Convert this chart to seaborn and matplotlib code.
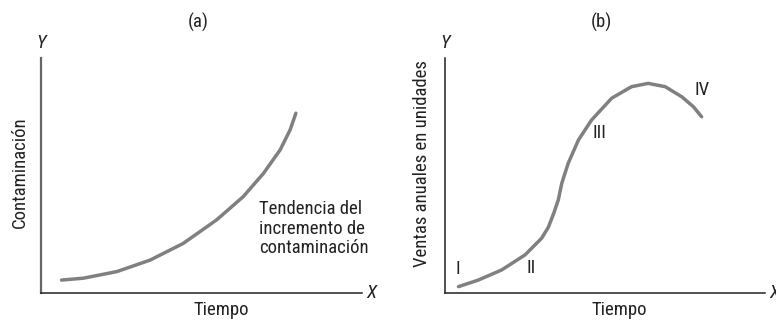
import matplotlib
matplotlib.use("Agg")
import matplotlib.pyplot as plt
import pandas as pd
import seaborn as sns

# panel (a): contaminación frente al tiempo (unidades arbitrarias 0-10)
tiempo_a = [0.64, 1.32, 2.36, 3.40, 4.43, 5.47, 6.30, 6.93, 7.45, 7.76, 7.94]
contam_a = [0.55, 0.63, 0.91, 1.40, 2.11, 3.11, 4.10, 5.09, 6.09, 6.94, 7.65]

# panel (b): ciclo de vida de ventas
tiempo_b = [0.42, 1.04, 1.77, 2.50, 3.02, 3.23, 3.40, 3.54, 3.65, 3.85,
            4.17, 4.58, 5.21, 5.83, 6.35, 6.88, 7.40, 7.76, 8.02]
ventas_b = [0.27, 0.55, 0.98, 1.62, 2.33, 2.80, 3.40, 3.96, 4.67, 5.52,
            6.51, 7.36, 8.29, 8.78, 8.92, 8.78, 8.35, 7.93, 7.50]

etapas = ["I", "II", "III", "IV"]
etapas_x = [0.41, 2.69, 4.84, 8.02]
etapas_y = [1.00, 1.05, 6.81, 8.64]

nota_a = "Tendencia del\nincremento de\ncontaminación"

sns.set_theme(style="white")
plt.rcParams["font.family"] = ["Roboto Condensed", "DejaVu Sans"]

GRIS = "#808080"
TXT = "#222222"
FS = 13.5

fig = plt.figure(figsize=(7.76, 3.2), dpi=100)
W, H = 776, 320
ax_a = fig.add_axes([41 / W, 27 / H, 321 / W, 235 / H])
ax_b = fig.add_axes([445 / W, 27 / H, 320 / W, 235 / H])

df_a = pd.DataFrame({"t": tiempo_a, "c": contam_a})
df_b = pd.DataFrame({"t": tiempo_b, "v": ventas_b})
sns.lineplot(data=df_a, x="t", y="c", ax=ax_a, color=GRIS, lw=2.5,
             estimator=None, sort=False)
sns.lineplot(data=df_b, x="t", y="v", ax=ax_b, color=GRIS, lw=2.5,
             estimator=None, sort=False)

for ax, titulo, ylab, ylab_x, ylab_y in [
        (ax_a, "(a)", "Contaminación", -0.065, 0.515),
        (ax_b, "(b)", "Ventas anuales en unidades", -0.072, 0.549)]:
    ax.set_xlim(0, 10)
    ax.set_ylim(0, 10)
    ax.set_xticks([])
    ax.set_yticks([])
    sns.despine(ax=ax)
    for s in ("left", "bottom"):
        ax.spines[s].set_color(TXT)
        ax.spines[s].set_linewidth(1.1)
    ax.set_xlabel("Tiempo", fontsize=FS, va="top", color=TXT)
    ax.set_ylabel(ylab, fontsize=FS, va="center", color=TXT)
    ax.yaxis.set_label_coords(ylab_x, ylab_y)
    ax.text(0.0, 1.065, "Y", transform=ax.transAxes, fontsize=FS,
            style="italic", ha="center", va="center", color=TXT)
    ax.text(1.03, 0.0, "X", transform=ax.transAxes, fontsize=FS,
            style="italic", ha="center", va="center", color=TXT)
    ax.text(0.49, 1.153, titulo, transform=ax.transAxes, fontsize=FS,
            ha="center", va="center", color=TXT)

ax_a.spines["left"].set_color("#666666")
ax_a.spines["left"].set_linewidth(1.6)
ax_a.xaxis.set_label_coords(0.56, -0.035)
ax_b.xaxis.set_label_coords(0.545, -0.035)

ax_a.text(6.79, 3.96, nota_a, fontsize=FS, ha="left", va="top",
          linespacing=1.12, color=TXT)

for et, x, y in zip(etapas, etapas_x, etapas_y):
    ax_b.text(x, y, et, fontsize=FS, ha="center", va="center", color=TXT)

fig.savefig("out.png", dpi=100)
